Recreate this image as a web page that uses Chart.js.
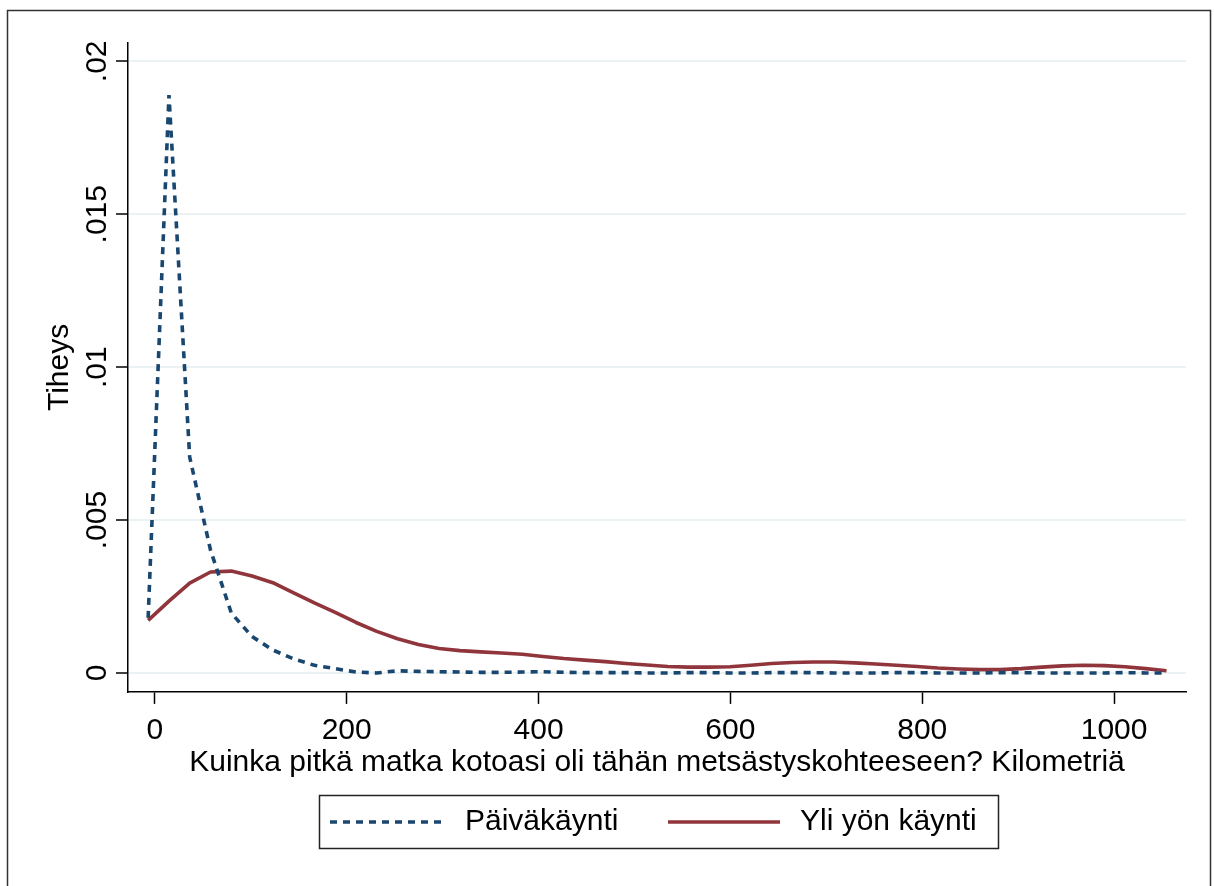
<!DOCTYPE html>
<html>
<head>
<meta charset="utf-8">
<script src="https://cdn.jsdelivr.net/npm/chart.js@4.4.1/dist/chart.umd.min.js"></script>
<style>
  html, body { margin: 0; padding: 0; background: #fff; }
  canvas { display: block; }
</style>
</head>
<body>
<canvas id="tiheys" width="1214" height="886"></canvas>
<script>
// kernel density grid (km) and the two estimated curves
const kmGrid = [-7, 14.7, 36.3, 58, 79.7, 101.3, 123, 144.7, 166.3, 188,
    209.7, 231.3, 253, 274.7, 296.3, 318, 339.7, 361.3, 383, 404.7,
    426.3, 448, 469.7, 491.3, 513, 534.7, 556.3, 578, 599.7, 621.3,
    643, 664.7, 686.3, 708, 729.7, 751.3, 773, 794.7, 816.3, 838,
    859.7, 881.3, 903, 924.7, 946.3, 968, 989.7, 1011.3, 1033, 1054.7];

const paivakaynti = [0.0018, 0.0189, 0.00706, 0.00402, 0.00196, 0.00119, 0.00075, 0.00046, 0.00025, 0.00014,
    0.00003, 0.0, 0.00007, 0.00005, 0.00004, 0.00003, 0.00002, 0.00002, 0.00003, 0.00004,
    0.00002, 0.00001, 0.00001, 0.00001, 0.0, 0.0, 0.00001, 0.00001, 0.0, 0.0,
    0.00001, 0.00001, 0.00001, 0.0, 0.0, 0.0, 0.00001, 0.00001, 0.0, 0.0,
    0.0, 0.00001, 0.00001, 0.0, 0.0, 0.0, 0.0, 0.00001, 0.0, 0.0];

const yliYon = [0.00172, 0.00235, 0.00294, 0.0033, 0.00333, 0.00317, 0.00295, 0.00262, 0.00229, 0.00198,
    0.00165, 0.00136, 0.00112, 0.00093, 0.0008, 0.00073, 0.00069, 0.00065, 0.00061, 0.00054,
    0.00047, 0.00042, 0.00037, 0.00031, 0.00026, 0.00021, 0.00019, 0.00019, 0.0002, 0.00025,
    0.00031, 0.00034, 0.00036, 0.00036, 0.00033, 0.00029, 0.00025, 0.00021, 0.00016, 0.00013,
    0.00011, 0.00011, 0.00014, 0.00019, 0.00023, 0.00025, 0.00024, 0.0002, 0.00014, 0.00007];

const seriesNames = ['Päiväkäynti', 'Yli yön käynti'];

const xTicks = [0, 200, 400, 600, 800, 1000];
const xTickLabels = ['0', '200', '400', '600', '800', '1000'];
const yTicks = [0, 0.005, 0.01, 0.015, 0.02];
const yTickLabels = ['0', '.005', '.01', '.015', '.02'];

const xTitle = 'Kuinka pitkä matka kotoasi oli tähän metsästyskohteeseen? Kilometriä';
const yTitle = 'Tiheys';

const FONT = '"Liberation Sans", Arial, sans-serif';
const NAVY = '#1a476f';
const MAROON = '#90353b';

function points(vals){
    return kmGrid.map(function(x, i){ return {x: x, y: vals[i]}; });
}

// text, legend and frame that Chart.js does not draw in this style
const stataBits = {
    id: 'stataBits',
    afterDraw: function(chart){
        const ctx = chart.ctx;
        const y = chart.scales.y;
        const area = chart.chartArea;
        ctx.save();
        ctx.fillStyle = '#000';
        ctx.font = '30px ' + FONT;
        ctx.textAlign = 'center';
        ctx.textBaseline = 'alphabetic';

        // rotated y tick labels
        yTicks.forEach(function(v, i){
            ctx.save();
            ctx.translate(106, y.getPixelForValue(v));
            ctx.rotate(-Math.PI / 2);
            ctx.fillText(yTickLabels[i], 0, 0);
            ctx.restore();
        });

        // y title
        ctx.save();
        ctx.translate(68, (area.top + area.bottom) / 2);
        ctx.rotate(-Math.PI / 2);
        ctx.fillText(yTitle, 0, 0);
        ctx.restore();

        // legend box
        const box = {l: 319.5, t: 795.5, r: 998.5, b: 848.5};
        ctx.strokeStyle = '#222';
        ctx.lineWidth = 1.5;
        ctx.strokeRect(box.l, box.t, box.r - box.l, box.b - box.t);
        const midY = (box.t + box.b) / 2;
        const items = [
            {x1: 330, x2: 443, tx: 465},
            {x1: 668, x2: 780, tx: 800}
        ];
        chart.data.datasets.forEach(function(ds, i){
            const it = items[i];
            ctx.save();
            ctx.strokeStyle = ds.borderColor;
            ctx.lineWidth = ds.borderWidth;
            ctx.setLineDash(ds.borderDash || []);
            ctx.beginPath();
            ctx.moveTo(it.x1, midY);
            ctx.lineTo(it.x2, midY);
            ctx.stroke();
            ctx.restore();
            ctx.textAlign = 'left';
            ctx.textBaseline = 'middle';
            ctx.fillText(ds.label, it.tx, midY);
        });

        // outer frame
        ctx.strokeStyle = '#333';
        ctx.lineWidth = 1.5;
        ctx.strokeRect(7.5, 10.5, 1203, 900);
        ctx.restore();
    }
};

const config = {
    type: 'line',
    data: {
        datasets: [
            {
                label: seriesNames[0],
                data: points(paivakaynti),
                borderColor: NAVY,
                borderWidth: 3.6,
                borderDash: [7, 6],
                borderCapStyle: 'butt',
                borderJoinStyle: 'miter',
                pointRadius: 0,
                tension: 0,
                fill: false
            },
            {
                label: seriesNames[1],
                data: points(yliYon),
                borderColor: MAROON,
                borderWidth: 3.6,
                borderJoinStyle: 'round',
                pointRadius: 0,
                tension: 0,
                fill: false
            }
        ]
    },
    options: {
        responsive: false,
        animation: false,
        devicePixelRatio: 1,
        layout: {
            padding: {left: 116, right: 28, top: 43, bottom: 107.9}
        },
        plugins: {
            legend: {display: false},
            tooltip: {enabled: false},
            title: {display: false}
        },
        scales: {
            x: {
                type: 'linear',
                min: -28,
                max: 1075,
                afterBuildTicks: function(s){
                    s.ticks = xTicks.map(function(v){ return {value: v}; });
                },
                grid: {
                    drawOnChartArea: false,
                    drawTicks: true,
                    tickLength: 12,
                    tickColor: '#000',
                    tickWidth: 1.5
                },
                border: {display: true, color: '#000', width: 1.5},
                ticks: {
                    color: '#000',
                    font: {family: FONT, size: 30, lineHeight: 1},
                    padding: 11.6,
                    maxRotation: 0,
                    autoSkip: false,
                    callback: function(v){
                        const i = xTicks.indexOf(v);
                        return i >= 0 ? xTickLabels[i] : '';
                    }
                },
                title: {
                    display: true,
                    text: xTitle,
                    color: '#000',
                    font: {family: FONT, size: 30, lineHeight: 1},
                    padding: {top: -9, bottom: 0}
                }
            },
            y: {
                type: 'linear',
                min: -0.00062,
                max: 0.0206,
                afterBuildTicks: function(s){
                    s.ticks = yTicks.map(function(v){ return {value: v}; });
                },
                grid: {
                    color: '#eaf2f3',
                    lineWidth: 2,
                    drawTicks: true,
                    tickLength: 12,
                    tickColor: '#000',
                    tickWidth: 1.5
                },
                border: {display: true, color: '#000', width: 1.5},
                ticks: {display: false}
            }
        }
    },
    plugins: [stataBits]
};

new Chart(document.getElementById('tiheys').getContext('2d'), config);
</script>
</body>
</html>
